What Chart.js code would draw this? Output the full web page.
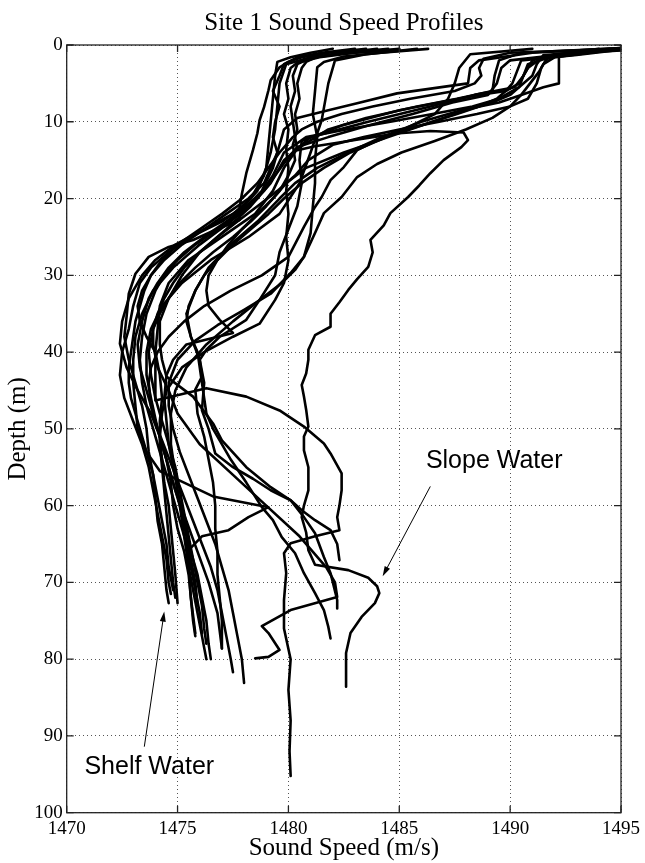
<!DOCTYPE html>
<html>
<head>
<meta charset="utf-8">
<script src="https://cdn.jsdelivr.net/npm/chart.js@4/dist/chart.umd.min.js"></script>
<style>
  html, body { margin: 0; padding: 0; background: #fff; }
</style>
</head>
<body>
<canvas id="chart" width="645" height="863"></canvas>
<script>
// axis ticks
const speedTicks = [1470, 1475, 1480, 1485, 1490, 1495]
const depthTicks = [0, 10, 20, 30, 40, 50, 60, 70, 80, 90, 100]

// profiles: depth (m) and sound speed (m/s)
const depthB1 = [0.5,1,1.6,2.2,2.9,4.6,5.9,8.1,9.8,11.5,13.7,16.7,19.4,21.1,22.8,24.1,25.4,26.3,27.6,29.8,32.4,35.4,38,41,44,47,50,53,56,59,62,65,68,71,72.7]
const speedB1 = [1483.5,1481.8,1480.6,1480,1479.6,1479.2,1479.1,1478.9,1478.7,1478.6,1478.4,1478.1,1477.9,1477.8,1477.8,1476.7,1475.7,1474.6,1473.7,1473.1,1472.8,1472.7,1472.6,1472.8,1473.1,1473.4,1473.6,1473.7,1473.9,1474,1474.1,1474.3,1474.4,1474.5,1474.6]

const depthB2 = [0.5,1,1.6,2.3,3,5,7,9,11,13.7,16,19,22,25,28,31,33.2,36.3,38,40,42,45,48,51,54,57,60,63,66,69,72.7]
const speedB2 = [1485,1483,1481.4,1480.4,1480.1,1479.9,1480,1479.8,1480,1479.9,1480,1479.9,1480,1479.9,1480,1479.8,1479.4,1478.7,1477.5,1476.2,1475.2,1474.5,1474.3,1474.2,1474.3,1474.4,1474.6,1474.7,1474.8,1474.9,1475]

const depthB3 = [0.5,1,1.5,2.2,2.9,6,9,12,15,18,21.1,24.5,27.6,29.3,31,33,36,39,42,45,48,52,56,60,64,68,72,76.6]
const speedB3 = [1486.3,1484.2,1482.5,1481.6,1481.3,1481.2,1481.1,1481.3,1481.2,1481.2,1481.1,1481,1480.7,1480.3,1479.7,1478.8,1477.5,1476.3,1475.4,1474.9,1474.7,1474.7,1474.9,1475.1,1475.3,1475.5,1475.6,1475.8]

const depthB4 = [0.5,1.2,2,5,9.8,14,18,22,25,28,31,34,37,40,43,46,50,54,58,62,66,70,74,78.6]
const speedB4 = [1485.8,1483.5,1482.1,1481.8,1481.5,1481,1480.5,1479.6,1478.2,1476.5,1475.2,1474.3,1473.8,1473.6,1473.6,1473.8,1474.1,1474.5,1474.9,1475.4,1475.9,1476.4,1476.8,1477]

const depthB5 = [0.5,1,1.6,2.2,4,7,10,13,16,19,21,23,25,27,29,31,34,37,40,43,46,49,52,55,58,61,64,67,70,71.5]
const speedB5 = [1482,1481,1480.1,1479.5,1479.4,1479.3,1479.2,1479.1,1479,1478.6,1478,1477,1475.6,1474.6,1473.8,1473.3,1473,1472.8,1472.5,1472.4,1472.6,1473,1473.4,1473.7,1473.9,1474.1,1474.3,1474.5,1474.6,1474.7]

const depthB6 = [0.5,1,1.6,2.5,5,8,11,14,17,20,22,24,26,28,30,33,36,38.9,42,45,48,51,54,57,60,63,66,69,72,75,77]
const speedB6 = [1484.5,1482.6,1481,1479.9,1479.6,1479.5,1479.4,1479.2,1478.9,1478.3,1477.5,1476.2,1474.9,1474,1473.4,1472.8,1472.5,1472.4,1472.7,1473.2,1473.8,1474.2,1474.5,1474.7,1474.8,1475,1475.3,1475.5,1475.6,1475.7,1475.8]

const depthB7 = [0.5,1,1.6,2.5,4,6,8,10,12,14,16,18,20,22,24,26,28,30,32,34,36,38,40,43,46,49,52,55,58,61,64,67,70,72]
const speedB7 = [1483,1481.5,1480.4,1479.8,1479.6,1479.3,1479.6,1479.4,1479.3,1479.5,1479.2,1478.9,1478.2,1477.2,1476.2,1475.2,1474.4,1473.8,1473.4,1473.2,1473.3,1473.6,1474,1474.2,1474.3,1474.2,1474.2,1474.3,1474.4,1474.5,1474.6,1474.7,1474.8,1474.9]

const depthB8 = [0.5,1,1.5,2.2,3,5,7,9,11,13,15,17,19,21,23,25,27,29,31,33,35,37,40,43,46,49,52,55,58,61,64,67,70,73,76,78]
const speedB8 = [1484,1482.4,1481.3,1480.8,1480.6,1480.4,1480.5,1480.3,1480.4,1480.2,1480.3,1480,1479.6,1479,1478.3,1477.5,1476.6,1475.8,1475.1,1474.6,1474.2,1473.9,1473.7,1473.8,1474,1474.3,1474.6,1474.9,1475.1,1475.3,1475.5,1475.7,1475.9,1476.1,1476.2,1476.3]

const depthW1 = [0.4,1,2,3,5,6.3,7.6,8.5,9.5,11,13,16,19,22,24,26,28,30,32,35,38,41,44,47,50,53,56,59,62,65,68,71,74,76.6]
const speedW1 = [1495,1491,1488.6,1488.2,1488.1,1484.9,1483.1,1481.8,1480.4,1479.8,1479.6,1479.3,1478.8,1477.8,1476.8,1475.8,1475,1474.4,1474,1473.6,1473.4,1473.3,1473.4,1473.6,1473.9,1474.2,1474.5,1474.8,1475.1,1475.4,1475.6,1475.8,1476,1476.1]

const depthW2 = [0.4,1,2,4,6,7,8,9.5,11,13.5,16,19,22,25,28,31,34,37,40,43,46.3,44.7,45.8,47.6,49.7,51.9,53.2,55.8,58,60,61.5,63.2,64,64.9,66.2,68.8,72.3,76,80,84,88,92,95.2]
const speedW2 = [1495,1490.5,1489.5,1489.3,1489.2,1487.6,1485.8,1483.5,1481.8,1480.4,1479.8,1479.3,1478.5,1477,1475.5,1474.6,1474.2,1474.1,1474,1474,1474,1476.3,1478.1,1479.6,1480.7,1481.6,1481.9,1482.4,1482.4,1482.3,1482.2,1482.3,1481.2,1480.1,1479.8,1479.9,1479.8,1479.8,1480.1,1480,1480.1,1480.05,1480.1]

const depthW3 = [0.6,1.2,2,4,5.5,6.5,8,10,12,15,18,21,24,27,30,33,36,39,41,43.2,45.8,49.3,51.5,55,57.6,59.3,61.5,63.6,66.7,68.8,72.3,73.4]
const speedW3 = [1495,1492,1491,1490.6,1490.2,1488.4,1486.4,1483.6,1481,1479.8,1479.2,1478.3,1477.2,1476,1475.2,1474.6,1474.2,1474.2,1474.3,1474.5,1475.7,1476.6,1477,1478.1,1479.2,1480.1,1480.7,1481.2,1481.6,1481.9,1482.2,1482.2]

const depthW4 = [0.8,1.5,3,5,5.5,6.5,7.5,8.5,10,12,14,16,18,20,23,26,29,32,35,38,41,44,47.6,50,53.2,55,56.5,58,59.3,60.6,61.9,63.2,65,67.1]
const speedW4 = [1494,1492.2,1492.2,1492.2,1491.5,1490.5,1489.5,1487.8,1486,1484.2,1482.7,1481.3,1480.3,1479.6,1478.6,1477.4,1476.4,1475.8,1475.4,1475.6,1476,1476.2,1476.1,1476.4,1476.7,1477.5,1478.4,1479.2,1480.1,1480.6,1481.2,1481.9,1482.2,1482.3]

const depthW5 = [0.7,1.3,2.5,4,5.5,7,8,9,10,11,12,14,17,20,23,26,29,32,35,38,41,44,47,50,53,55.5,58.8,60.2,61.5,63.2,64,65.8,68,71,74,77,80]
const speedW5 = [1495,1491.5,1491.2,1491,1490.4,1489.5,1488.3,1486.5,1484.6,1482.6,1480.8,1479.8,1479.3,1478.6,1477.4,1476,1474.8,1473.9,1473.4,1473.1,1473,1473,1473.1,1473.2,1473.6,1474.2,1476.6,1479.1,1478.2,1477.3,1476.1,1475.5,1475.5,1475.7,1475.9,1476.1,1476.3]

const depthW6 = [0.4,1,2,3,5,6.5,7.5,9,10.5,12,13.3,15,17,19,21,23,25,27,29,31,33,36,39,42,45,48,51,54,57,60,63,66,69,72,75,78,80]
const speedW6 = [1495,1493,1490,1489.6,1489.4,1489,1487.4,1485.6,1483.6,1481.8,1480.4,1479.9,1479.4,1478.9,1478.1,1477.2,1476.2,1475.3,1474.6,1474.1,1473.7,1473.4,1473.2,1473.3,1473.6,1473.9,1474.2,1474.5,1474.8,1475.1,1475.4,1475.6,1475.9,1476.1,1476.3,1476.4,1476.5]

const depthW7 = [0.5,1.5,3,5,6,6.5,7.5,8.5,10.5,12.5,15,18,21,24,27,30,33.2,35.8,38,39.7,41,43.2,44.9,48,51,54,57,60,63,66,69,72,75,78.6]
const speedW7 = [1494,1491.5,1490.8,1490.4,1489.8,1488.6,1486.8,1485,1482.4,1480.6,1480.5,1480.6,1480.4,1480,1479.6,1479.4,1478.7,1478.1,1476.9,1476.3,1476,1476.1,1475.8,1475.9,1476.2,1476.4,1476.6,1476.7,1476.7,1476.8,1476.8,1476.9,1477,1477]

const depthW8 = [0.6,1.3,2,3.5,5,6,7,8,9,10,11,12,13.7,15.9,17.6,19.8,21.1,23.7,27.6,30,32,34,36,38,40,42,44,47,50,53,56,59,62,65,68,71,74,77,80,81.7]
const speedW8 = [1495,1493,1490.5,1490.3,1490.1,1489.8,1489.4,1488.6,1487.6,1486.5,1485.4,1484.3,1483.1,1482.5,1481.9,1481.5,1481.2,1480.7,1480,1478.8,1477.4,1476.2,1475.3,1474.6,1474.1,1473.8,1473.7,1473.8,1474.1,1474.5,1474.9,1475.3,1475.7,1476.1,1476.5,1476.8,1477,1477.2,1477.4,1477.5]

const depthW9 = [0.5,1.6,2.5,3.5,5,6.5,8,9.5,11,12.5,14,15.5,17.2,19.8,21.9,24.5,27.6,29.7,32.4,34.5,36.5,38.5,41,44,47,50,53,56,59,62,65,68,71,74,77,80,83.1]
const speedW9 = [1495,1492,1491.5,1491.3,1490.9,1490.5,1490,1489.2,1488,1486.6,1485.1,1484,1483.1,1482.4,1481.6,1481.2,1480.7,1480.1,1479.2,1478,1476.8,1475.8,1475,1474.6,1474.6,1474.8,1475.1,1475.5,1475.9,1476.3,1476.7,1477,1477.3,1477.5,1477.7,1477.9,1478]

const depthW10 = [0.5,1,1.8,3,4,5,6,7,8,9,10,11,12,13,14,16,18,20,22,24,26,28,30,32,34,36,38,40,42,44,46,48,50,53,56,59,62,65,68,71]
const speedW10 = [1495,1490,1488.8,1488.6,1488.7,1488.4,1487.5,1485.5,1483.8,1482.4,1481.3,1480.6,1480.2,1479.9,1479.6,1479.1,1478.6,1477.9,1477,1476,1475,1474.3,1473.8,1473.5,1473.3,1473.1,1473,1472.9,1472.8,1472.8,1472.9,1473.1,1473.3,1473.6,1473.9,1474.1,1474.3,1474.5,1474.6,1474.8]

const depthW11 = [0.7,1.4,2.5,4,5.5,6.5,7.5,8.5,10,12,14,16,18,20,22,24,26,28,30,32,34,35.8,37.5,39,41,43,46,49,52,55,58,61,64,67,70,73]
const speedW11 = [1494,1492,1490.8,1490.6,1490.4,1490,1489.2,1488,1486.5,1484.5,1482.5,1480.8,1479.9,1479.3,1478.6,1477.9,1477.3,1476.8,1476.4,1476.3,1476.4,1476.9,1477.5,1475.4,1474.8,1474.5,1474.4,1474.5,1474.6,1474.8,1475,1475.2,1475.4,1475.6,1475.8,1475.9]

const depthX1 = [0.5,1.2,2,3,5,7,8,9,10,11,12,13,15,17,19,21,23,25,27,29,31,33,35,37,39,42,45,48,52,56,60,64,68,70,71.9,73.6,75.7,76.6,78.8,79.7,79.9]
const speedX1 = [1494.5,1492,1491.6,1491.4,1491.2,1490.8,1490,1488.5,1486.8,1485,1483.4,1482,1480.9,1480.3,1479.5,1478.6,1477.7,1476.8,1476,1475.3,1474.8,1474.4,1474.1,1473.9,1473.9,1474.1,1474.6,1475,1476,1477.5,1479,1480.5,1481.7,1482.1,1482.2,1480.1,1478.8,1479.1,1479.6,1479.1,1478.5]

const depthX2 = [0.5,1.2,3,5,7,9,11,12.5,14,16,18,20,22,24,26,28,30,32,34,36,38,40,42,44,46,48,50,54,57,60.2,61.9,64.1,66.2,68.8,71.4,73.6,75.8,77.3]
const speedX2 = [1491,1488.2,1487.7,1487.5,1487.2,1486.6,1485.2,1484,1482.8,1481.6,1480.6,1479.8,1479.1,1478.3,1477.5,1476.8,1476.2,1475.8,1475.5,1475.4,1475.6,1475.9,1476,1476.1,1476.2,1476.3,1476.6,1477.4,1478.1,1478.8,1479.3,1479.7,1480.3,1480.7,1481.2,1481.6,1481.8,1481.9]

// slope water profile
const depthS1 = [0.6,1.1,1.7,2.5,4,6,8,10,12,13.7,13.2,12.6,12,11.5,11.2,11.4,12.4,13.3,15,16.7,18.3,19.8,21.9,23.5,25.4,27,28.9,30.5,31.9,33.5,35,36.7,37.8,39.7,41,42.8,44.3,45.8,47.5,49.7,51,52.8,55,58,60,61.5,63.5,65.8,67.7,68.4,69.4,70.5,71.4,72.7,74.5,76.6,79.2,81.5,83.6]
const speedS1 = [1485,1482.5,1481,1480.4,1480.2,1480.3,1480.1,1480.2,1480.3,1480.4,1481.2,1482.5,1483.8,1485,1486.4,1487.9,1488.1,1487.8,1487,1486.4,1485.9,1485.4,1484.6,1484.3,1483.7,1483.8,1483.6,1483.1,1482.7,1482.3,1481.9,1481.9,1481.2,1480.9,1480.9,1480.8,1480.6,1480.7,1480.8,1480.9,1480.7,1480.7,1480.9,1480.9,1480.7,1480.6,1480.8,1480.9,1481.2,1482.7,1483.6,1484,1484.1,1483.9,1483.3,1482.8,1482.6,1482.6,1482.6]

// annotations in data units: [speed, depth]
const shelfArrow = [[1473.5, 91.4], [1474.4, 73.8]]
const slopeArrow = [[1486.4, 57.5], [1484.25, 69.2]]
const shelfLabel = [1470.8, 94]
const slopeLabel = [1486.2, 54.2]

const profiles = [
  [depthB1, speedB1], [depthB2, speedB2], [depthB3, speedB3], [depthB4, speedB4],
  [depthB5, speedB5], [depthB6, speedB6], [depthB7, speedB7], [depthB8, speedB8],
  [depthW1, speedW1], [depthW2, speedW2], [depthW3, speedW3], [depthW4, speedW4],
  [depthW5, speedW5], [depthW6, speedW6], [depthW7, speedW7], [depthW8, speedW8],
  [depthW9, speedW9], [depthW10, speedW10], [depthW11, speedW11],
  [depthX1, speedX1], [depthX2, speedX2], [depthS1, speedS1]
]

const datasets = profiles.map(([d, s]) => {
  const pts = []
  for (let i = 0; i < Math.min(d.length, s.length); i++) pts.push({x: s[i], y: d[i]})
  return {
    data: pts,
    showLine: true,
    borderColor: '#000',
    borderWidth: 2.6,
    pointRadius: 0,
    tension: 0,
    borderJoinStyle: 'round',
    borderCapStyle: 'round'
  }
})

const serif = '"Liberation Serif", "Times New Roman", serif'

const arrow = (ctx, x0, y0, x1, y1) => {
  const ang = Math.atan2(y1 - y0, x1 - x0)
  const len = 10, half = 3
  ctx.beginPath()
  ctx.moveTo(x0, y0)
  ctx.lineTo(x1 - Math.cos(ang) * len * 0.8, y1 - Math.sin(ang) * len * 0.8)
  ctx.stroke()
  ctx.beginPath()
  ctx.moveTo(x1, y1)
  ctx.lineTo(x1 - Math.cos(ang) * len - Math.sin(ang) * half, y1 - Math.sin(ang) * len + Math.cos(ang) * half)
  ctx.lineTo(x1 - Math.cos(ang) * len + Math.sin(ang) * half, y1 - Math.sin(ang) * len - Math.cos(ang) * half)
  ctx.closePath()
  ctx.fill()
}

const decorations = {
  id: 'decorations',
  afterDatasetsDraw(chart) {
    const {ctx, chartArea: a, scales} = chart
    const x = scales.x, y = scales.y
    ctx.save()
    ctx.strokeStyle = '#222'
    ctx.lineWidth = 1.3
    ctx.strokeRect(a.left, a.top, a.right - a.left, a.bottom - a.top)
    ctx.beginPath()
    speedTicks.forEach(v => {
      const px = x.getPixelForValue(v)
      ctx.moveTo(px, a.bottom); ctx.lineTo(px, a.bottom - 7)
      ctx.moveTo(px, a.top); ctx.lineTo(px, a.top + 7)
    })
    depthTicks.forEach(v => {
      const py = y.getPixelForValue(v)
      ctx.moveTo(a.left, py); ctx.lineTo(a.left + 7, py)
      ctx.moveTo(a.right, py); ctx.lineTo(a.right - 7, py)
    })
    ctx.stroke()

    ctx.strokeStyle = '#000'
    ctx.fillStyle = '#000'
    ctx.lineWidth = 1
    ;[shelfArrow, slopeArrow].forEach(([p0, p1]) => {
      arrow(ctx, x.getPixelForValue(p0[0]), y.getPixelForValue(p0[1]),
        x.getPixelForValue(p1[0]), y.getPixelForValue(p1[1]))
    })

    ctx.font = '25px "Liberation Sans", Arial, sans-serif'
    ctx.textAlign = 'left'
    ctx.textBaseline = 'middle'
    ctx.fillText('Shelf Water', x.getPixelForValue(shelfLabel[0]), y.getPixelForValue(shelfLabel[1]))
    ctx.fillText('Slope Water', x.getPixelForValue(slopeLabel[0]), y.getPixelForValue(slopeLabel[1]))

    ctx.font = '25px ' + serif
    ctx.textAlign = 'center'
    ctx.textBaseline = 'alphabetic'
    ctx.fillText('Site 1 Sound Speed Profiles', (a.left + a.right) / 2, 30)
    ctx.restore()
  }
}

new Chart(document.getElementById('chart'), {
  type: 'scatter',
  data: { datasets },
  plugins: [decorations],
  options: {
    responsive: false,
    devicePixelRatio: 1,
    animation: false,
    layout: { padding: { top: 45, right: 21, left: 0, bottom: 0 } },
    plugins: { legend: { display: false }, tooltip: { enabled: false } },
    scales: {
      x: {
        type: 'linear',
        min: 1470,
        max: 1495,
        afterFit: s => { s.height = 50.3 },
        ticks: { stepSize: 5, color: '#000', font: { family: serif, size: 19 }, padding: 5, maxRotation: 0, callback: v => String(v) },
        grid: { color: '#555', lineWidth: 1, drawTicks: false },
        border: { display: false, dash: [1, 3] },
        title: { display: true, text: 'Sound Speed (m/s)', color: '#000', font: { family: serif, size: 25, lineHeight: 1.2 }, padding: { top: 0, bottom: 0 } }
      },
      y: {
        type: 'linear',
        reverse: true,
        min: 0,
        max: 100,
        afterFit: s => { s.width = 66.7 },
        ticks: { stepSize: 10, color: '#000', font: { family: serif, size: 19 }, padding: 4, callback: v => String(v) },
        grid: { color: '#555', lineWidth: 1, drawTicks: false },
        border: { display: false, dash: [1, 3] },
        title: { display: true, text: 'Depth (m)', color: '#000', font: { family: serif, size: 25, lineHeight: 1.2 }, padding: { top: 3, bottom: 0 } }
      }
    }
  }
})
</script>
</body>
</html>
